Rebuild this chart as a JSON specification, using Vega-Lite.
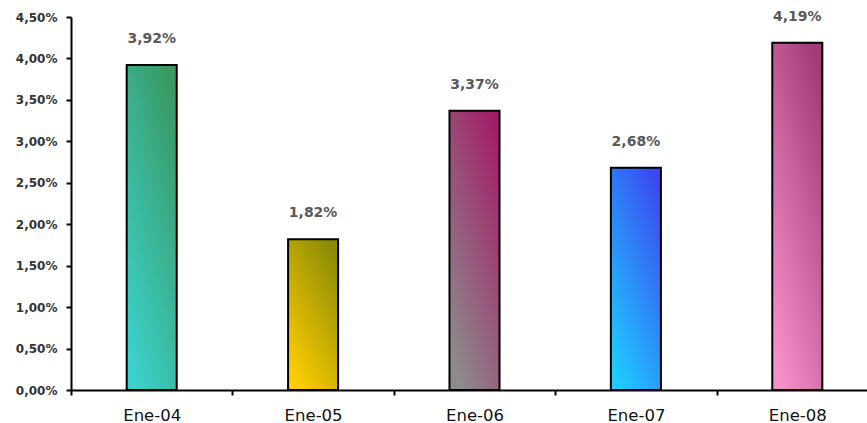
{
  "$schema": "https://vega.github.io/schema/vega-lite/v6.json",
  "autosize": {"type": "none"},
  "padding": {"left": 71, "top": 17, "right": 0, "bottom": 33},
  "width": 796,
  "height": 373,
  "background": "white",
  "config": {"view": {"stroke": null}, "font": "DejaVu Sans"},
  "data": {"values": [
    {"mes": "Ene-04", "v": 0.0392},
    {"mes": "Ene-05", "v": 0.0182},
    {"mes": "Ene-06", "v": 0.0337},
    {"mes": "Ene-07", "v": 0.0268},
    {"mes": "Ene-08", "v": 0.0419}
  ]},
  "encoding": {
    "x": {
      "field": "mes", "type": "nominal", "sort": null,
      "scale": {"domain": ["Ene-04", "Ene-05", "Ene-06", "Ene-07", "Ene-08"], "range": [0, 807], "paddingInner": 0, "paddingOuter": 0},
      "axis": {"title": null, "labelAngle": 0, "tickBand": "extent", "domainColor": "#000", "domainWidth": 2, "tickColor": "#000", "tickWidth": 2, "tickSize": 5, "labelFont": "DejaVu Sans", "labelFontSize": 16.5, "labelFontWeight": "normal", "labelColor": "#111", "labelPadding": 12, "grid": false}
    },
    "y": {
      "field": "v", "type": "quantitative",
      "scale": {"domain": [0, 0.045], "nice": false, "zero": true},
      "axis": {"title": null, "values": [0, 0.005, 0.01, 0.015, 0.02, 0.025, 0.03, 0.035, 0.04, 0.045], "labelExpr": "replace(format(datum.value, '.2%'), '.', ',')", "domainColor": "#000", "domainWidth": 2, "tickColor": "#000", "tickWidth": 2, "tickSize": 5, "labelFont": "DejaVu Sans", "labelFontSize": 12, "labelFontWeight": "bold", "labelColor": "#333", "labelPadding": 9, "grid": false}
    }
  },
  "layer": [
    {
      "transform": [{"filter": "datum.mes == 'Ene-04'"}],
      "mark": {"type": "bar", "width": {"band": 0.31}, "stroke": "#000", "strokeWidth": 2,
        "color": {"gradient": "linear", "x1": 0.2, "y1": 1, "x2": 0.8, "y2": 0, "stops": [{"offset": 0, "color": "#3ad2cc"}, {"offset": 1, "color": "#3a9862"}]}}
    },
    {
      "transform": [{"filter": "datum.mes == 'Ene-05'"}],
      "mark": {"type": "bar", "width": {"band": 0.31}, "stroke": "#000", "strokeWidth": 2,
        "color": {"gradient": "linear", "x1": 0.2, "y1": 1, "x2": 0.8, "y2": 0, "stops": [{"offset": 0, "color": "#ffce00"}, {"offset": 1, "color": "#8a8a06"}]}}
    },
    {
      "transform": [{"filter": "datum.mes == 'Ene-06'"}],
      "mark": {"type": "bar", "width": {"band": 0.31}, "stroke": "#000", "strokeWidth": 2,
        "color": {"gradient": "linear", "x1": 0.2, "y1": 1, "x2": 0.8, "y2": 0, "stops": [{"offset": 0, "color": "#8c8c8c"}, {"offset": 1, "color": "#a31e68"}]}}
    },
    {
      "transform": [{"filter": "datum.mes == 'Ene-07'"}],
      "mark": {"type": "bar", "width": {"band": 0.31}, "stroke": "#000", "strokeWidth": 2,
        "color": {"gradient": "linear", "x1": 0.2, "y1": 1, "x2": 0.8, "y2": 0, "stops": [{"offset": 0, "color": "#1ecbff"}, {"offset": 1, "color": "#3a4af0"}]}}
    },
    {
      "transform": [{"filter": "datum.mes == 'Ene-08'"}],
      "mark": {"type": "bar", "width": {"band": 0.31}, "stroke": "#000", "strokeWidth": 2,
        "color": {"gradient": "linear", "x1": 0.2, "y1": 1, "x2": 0.8, "y2": 0, "stops": [{"offset": 0, "color": "#f690cc"}, {"offset": 1, "color": "#a23c78"}]}}
    },
    {
      "mark": {"type": "text", "baseline": "middle", "dy": -26, "font": "DejaVu Sans", "fontSize": 14, "fontWeight": "bold", "color": "#595959",
        "text": {"expr": "replace(format(datum.v, '.2%'), '.', ',')"}}
    }
  ]
}
